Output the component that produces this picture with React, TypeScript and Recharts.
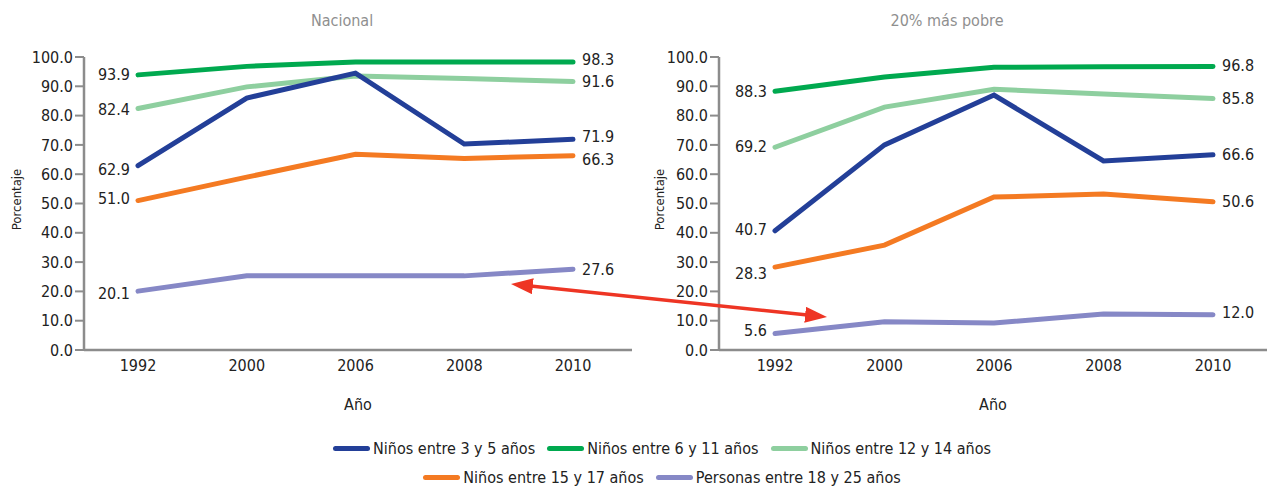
import React from 'react';
import { LineChart, Line, XAxis, YAxis, LabelList } from 'recharts';

const YEARS = ['1992', '2000', '2006', '2008', '2010'];
const SERIES_NAMES = [
  'Niños entre 3 y 5 años',
  'Niños entre 6 y 11 años',
  'Niños entre 12 y 14 años',
  'Niños entre 15 y 17 años',
  'Personas entre 18 y 25 años',
];
const SERIES_COLORS = ['#233f98', '#00a94f', '#8ecf9f', '#f47a22', '#8688c6'];
const Y_TICKS = [0, 10, 20, 30, 40, 50, 60, 70, 80, 90, 100];

const NAC_3_5 = [62.9, 86.0, 94.5, 70.3, 71.9];
const NAC_6_11 = [93.9, 96.8, 98.3, 98.3, 98.3];
const NAC_12_14 = [82.4, 89.8, 93.5, 92.7, 91.6];
const NAC_15_17 = [51.0, 59.0, 66.8, 65.4, 66.3];
const NAC_18_25 = [20.1, 25.3, 25.3, 25.3, 27.6];

const POB_3_5 = [40.7, 70.0, 87.0, 64.5, 66.6];
const POB_6_11 = [88.3, 93.2, 96.5, 96.7, 96.8];
const POB_12_14 = [69.2, 82.9, 89.0, 87.4, 85.8];
const POB_15_17 = [28.3, 35.8, 52.2, 53.2, 50.6];
const POB_18_25 = [5.6, 9.6, 9.2, 12.3, 12.0];

const NAC_SERIES = [NAC_3_5, NAC_6_11, NAC_12_14, NAC_15_17, NAC_18_25];
const POB_SERIES = [POB_3_5, POB_6_11, POB_12_14, POB_15_17, POB_18_25];

// label vertical nudges [first, last] per series
const NAC_LABEL_DY = [[4, -3], [0, -2], [1, 0], [-2, 4], [2, 0]];
const POB_LABEL_DY = [[-1, 0], [0, -1], [-1, 0], [6, 0], [-3, -2]];

const FONT = "'DejaVu Sans Condensed', 'Liberation Sans Narrow', 'DejaVu Sans', sans-serif";
const AXIS_COLOR = '#8c8c8c';
const TEXT_COLOR = '#222222';

const buildRows = (series: number[][]) =>
  YEARS.map((year, i) => {
    const row: Record<string, any> = { year };
    series.forEach((s, k) => {
      row['s' + k] = s[i];
    });
    return row;
  });

// draw order: light green, green, orange, lavender, blue (blue on top)
const DRAW_ORDER = [2, 1, 3, 4, 0];

type PanelProps = {
  series: number[][];
  labelDy: number[][];
  left: number;
  width: number;
  marginRight: number;
  padLeft: number;
  padRight: number;
  yLabelX: number;
};

const Panel = ({ series, labelDy, left, width, marginRight, padLeft, padRight, yLabelX }: PanelProps) => {
  const data = buildRows(series);
  const last = YEARS.length - 1;
  return (
    <div style={{ position: 'absolute', left, top: 0 }}>
      <LineChart
        width={width}
        height={420}
        data={data}
        margin={{ top: 57, right: marginRight, bottom: 0, left: 0 }}
      >
        <XAxis
          dataKey="year"
          padding={{ left: padLeft, right: padRight }}
          axisLine={{ stroke: AXIS_COLOR, strokeWidth: 2.5 }}
          tickLine={false}
          tickSize={6}
          tickMargin={4}
          height={70}
          tick={{ fill: TEXT_COLOR, fontSize: 16, fontFamily: FONT }}
          label={{
            value: 'Año',
            position: 'insideBottom',
            offset: 10,
            fill: TEXT_COLOR,
            fontSize: 16,
            fontFamily: FONT,
          }}
        />
        <YAxis
          width={84}
          domain={[0, 100]}
          ticks={Y_TICKS}
          interval={0}
          tickFormatter={(v: number) => v.toFixed(1)}
          axisLine={{ stroke: AXIS_COLOR, strokeWidth: 2.5 }}
          tickLine={{ stroke: AXIS_COLOR, strokeWidth: 2 }}
          tickSize={9}
          tickMargin={2}
          tick={{ fill: TEXT_COLOR, fontSize: 16, fontFamily: FONT }}
          label={{
            content: (p: any) => {
              const vb = p.viewBox || {};
              const cx = vb.x + yLabelX;
              const cy = vb.y + vb.height / 2 - 4;
              return (
                <text
                  x={cx}
                  y={cy}
                  transform={`rotate(-90, ${cx}, ${cy})`}
                  textAnchor="middle"
                  dominantBaseline="central"
                  fill={TEXT_COLOR}
                  fontSize={13}
                  fontFamily={FONT}
                >
                  Porcentaje
                </text>
              );
            },
          }}
        />
        {DRAW_ORDER.map((k) => (
          <Line
            key={k}
            type="linear"
            dataKey={'s' + k}
            name={SERIES_NAMES[k]}
            stroke={SERIES_COLORS[k]}
            strokeWidth={5}
            strokeLinecap="round"
            dot={false}
            activeDot={false}
            isAnimationActive={false}
          >
            <LabelList
              dataKey={'s' + k}
              content={(p: any) => {
                const idx = p.index;
                if (idx !== 0 && idx !== last) return null;
                const isFirst = idx === 0;
                const dy = labelDy[k][isFirst ? 0 : 1];
                return (
                  <text
                    x={isFirst ? p.x - 8 : p.x + 9}
                    y={p.y + dy}
                    textAnchor={isFirst ? 'end' : 'start'}
                    dominantBaseline="central"
                    fill={TEXT_COLOR}
                    fontSize={16}
                    fontFamily={FONT}
                  >
                    {Number(p.value).toFixed(1)}
                  </text>
                );
              }}
            />
          </Line>
        ))}
      </LineChart>
    </div>
  );
};

const Title = ({ text, cx }: { text: string; cx: number }) => (
  <div
    style={{
      position: 'absolute',
      left: cx - 150,
      width: 300,
      top: 11,
      lineHeight: '20px',
      textAlign: 'center',
      color: '#8f8f8f',
      fontSize: 16,
      fontFamily: FONT,
    }}
  >
    {text}
  </div>
);

const LegendItem = ({ k }: { k: number }) => (
  <div style={{ display: 'flex', alignItems: 'center' }}>
    <span
      style={{
        display: 'inline-block',
        width: 37,
        height: 5,
        borderRadius: 3,
        background: SERIES_COLORS[k],
        marginRight: 3,
      }}
    />
    <span style={{ fontSize: 16, color: TEXT_COLOR, fontFamily: FONT, whiteSpace: 'nowrap' }}>
      {SERIES_NAMES[k]}
    </span>
  </div>
);

const LEGEND_ROWS = [[0, 1, 2], [3, 4]];

const Arrow = () => {
  const a = { x: 511, y: 284 };
  const b = { x: 827, y: 317 };
  const dx = b.x - a.x;
  const dy = b.y - a.y;
  const len = Math.sqrt(dx * dx + dy * dy);
  const ux = dx / len;
  const uy = dy / len;
  const inset = 10;
  return (
    <svg
      width={1267}
      height={488}
      style={{ position: 'absolute', left: 0, top: 0, pointerEvents: 'none' }}
    >
      <defs>
        <marker
          id="ahead"
          viewBox="0 0 22 16"
          refX={12}
          refY={8}
          markerWidth={22}
          markerHeight={16}
          markerUnits="userSpaceOnUse"
          orient="auto-start-reverse"
        >
          <path d="M0,0 L22,8 L0,16 Z" fill="#ee3524" />
        </marker>
      </defs>
      <line
        x1={a.x + ux * inset}
        y1={a.y + uy * inset}
        x2={b.x - ux * inset}
        y2={b.y - uy * inset}
        stroke="#ee3524"
        strokeWidth={3.5}
        markerStart="url(#ahead)"
        markerEnd="url(#ahead)"
      />
    </svg>
  );
};

export default function App() {
  return (
    <div
      style={{
        position: 'absolute',
        left: 0,
        top: 0,
        width: 1267,
        height: 488,
        background: '#ffffff',
        overflow: 'hidden',
        fontFamily: FONT,
      }}
    >
      <Title text="Nacional" cx={342} />
      <Title text="20% más pobre" cx={947} />
      <Panel
        series={NAC_SERIES}
        labelDy={NAC_LABEL_DY}
        left={0}
        width={635}
        marginRight={3}
        padLeft={54}
        padRight={59}
        yLabelX={16}
      />
      <Panel
        series={POB_SERIES}
        labelDy={POB_LABEL_DY}
        left={635}
        width={632}
        marginRight={0}
        padLeft={56}
        padRight={54}
        yLabelX={24}
      />
      {LEGEND_ROWS.map((row, r) => (
        <div
          key={r}
          style={{
            position: 'absolute',
            left: 57,
            width: 1210,
            top: r === 0 ? 438 : 467,
            height: 20,
            display: 'flex',
            justifyContent: 'center',
            alignItems: 'center',
            gap: 12,
          }}
        >
          {row.map((k) => (
            <LegendItem key={k} k={k} />
          ))}
        </div>
      ))}
      <Arrow />
    </div>
  );
}
